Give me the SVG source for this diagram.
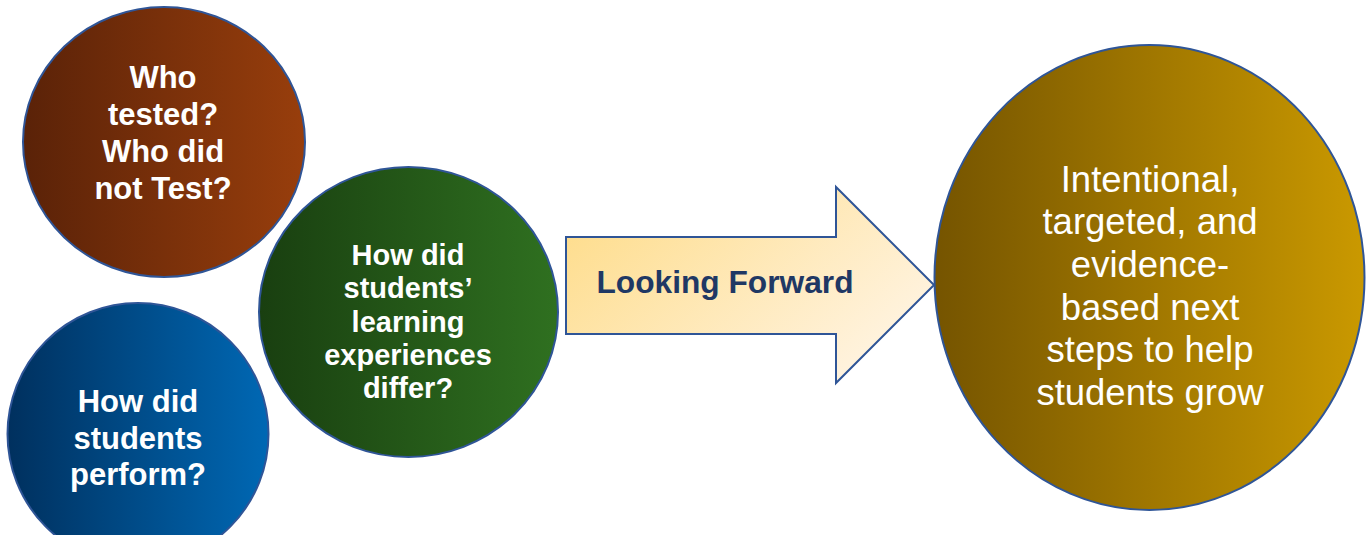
<svg xmlns="http://www.w3.org/2000/svg" width="1366" height="535" viewBox="0 0 1366 535">
<defs>
<linearGradient id="gBrown" x1="0" y1="0" x2="1" y2="0"><stop offset="0" stop-color="#5a2208"/><stop offset="1" stop-color="#983e0c"/></linearGradient>
<linearGradient id="gBlue" x1="0" y1="0" x2="1" y2="0"><stop offset="0" stop-color="#00305e"/><stop offset="1" stop-color="#0068b4"/></linearGradient>
<linearGradient id="gGreen" x1="0" y1="0" x2="1" y2="0"><stop offset="0" stop-color="#193f10"/><stop offset="1" stop-color="#2f7020"/></linearGradient>
<linearGradient id="gGold" x1="0" y1="0" x2="1" y2="0"><stop offset="0" stop-color="#755400"/><stop offset="1" stop-color="#ca9900"/></linearGradient>
<linearGradient id="gArrow" x1="0" y1="0" x2="1" y2="0.6"><stop offset="0" stop-color="#fedb85"/><stop offset="1" stop-color="#fff3df"/></linearGradient>
</defs>
<style>
.shape{stroke:#2f5597;stroke-width:2}
.bold{font-family:"Liberation Sans",Arial,sans-serif;font-weight:bold;fill:#ffffff;text-anchor:middle}
.reg{font-family:"Liberation Sans",Arial,sans-serif;fill:#ffffff;text-anchor:middle}
</style>
<g id="node-who-tested">
<ellipse class="shape" cx="164" cy="142" rx="141" ry="135" fill="url(#gBrown)"/>
<text class="bold" font-size="31" x="163"><tspan x="163" y="88">Who</tspan><tspan x="163" y="125">tested?</tspan><tspan x="163" y="162">Who did</tspan><tspan x="163" y="199">not Test?</tspan></text>
</g>
<g id="node-perform">
<ellipse class="shape" cx="138" cy="434" rx="130.5" ry="131" fill="url(#gBlue)"/>
<text class="bold" font-size="31" x="138"><tspan x="138" y="412">How did</tspan><tspan x="138" y="448.5">students</tspan><tspan x="138" y="485">perform?</tspan></text>
</g>
<g id="node-experiences">
<ellipse class="shape" cx="408.5" cy="312" rx="149.5" ry="145" fill="url(#gGreen)"/>
<text class="bold" font-size="29" x="408"><tspan x="408" y="265">How did</tspan><tspan x="408" y="298">students’</tspan><tspan x="408" y="331.5">learning</tspan><tspan x="408" y="365">experiences</tspan><tspan x="408" y="398">differ?</tspan></text>
</g>
<g id="connectors">
<g id="arrow-looking-forward">
<polygon class="shape" points="566,237 836,237 836,187 934,285 836,383 836,334 566,334" fill="url(#gArrow)"/>
<text font-family="'Liberation Sans',Arial,sans-serif" font-weight="bold" font-size="31.7" fill="#1f3864" x="725" y="293" text-anchor="middle">Looking Forward</text>
</g>
</g>
<g id="node-next-steps">
<ellipse class="shape" cx="1149.5" cy="277.5" rx="215" ry="232.5" fill="url(#gGold)"/>
<text class="reg" font-size="36.5" x="1150"><tspan x="1150" y="192">Intentional,</tspan><tspan x="1150" y="234">targeted, and</tspan><tspan x="1150" y="277">evidence-</tspan><tspan x="1150" y="320">based next</tspan><tspan x="1150" y="362">steps to help</tspan><tspan x="1150" y="405">students grow</tspan></text>
</g>
</svg>
